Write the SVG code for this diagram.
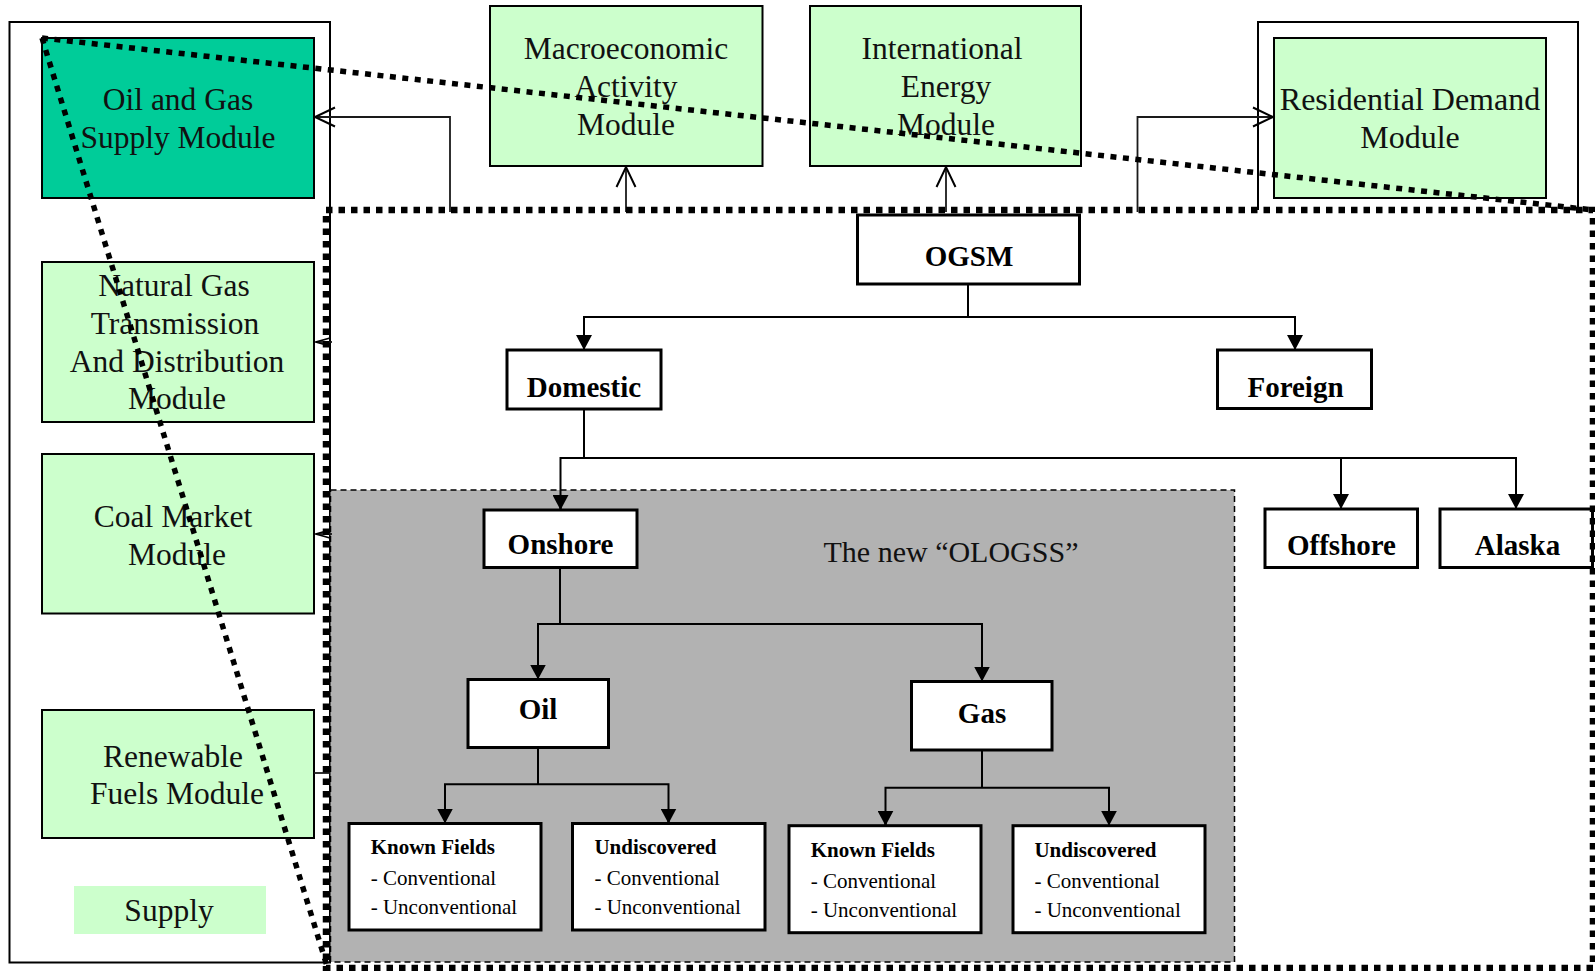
<svg xmlns="http://www.w3.org/2000/svg" width="1595" height="971" viewBox="0 0 1595 971">
  <style>
    .mod { fill: #CCFFCC; stroke: #000; stroke-width: 2; }
    .modtxt { font-family: "Liberation Serif", "Times New Roman", serif; font-size: 31.5px; fill: #111; text-anchor: middle; }
    .frame { fill: none; stroke: #000; stroke-width: 2; }
    .node { fill: #fff; stroke: #000; stroke-width: 3; }
    .ntxt { font-family: "Liberation Serif", "Times New Roman", serif; font-size: 29px; font-weight: bold; fill: #000; text-anchor: middle; }
    .leafh { font-family: "Liberation Serif", "Times New Roman", serif; font-size: 21px; font-weight: bold; fill: #000; }
    .leaft { font-family: "Liberation Serif", "Times New Roman", serif; font-size: 21px; fill: #000; }
    .wire { fill: none; stroke: #000; stroke-width: 2; }
    .feed { fill: none; stroke: #1a1a1a; stroke-width: 1.8; }
    .dots { fill: none; stroke: #000; stroke-width: 6.5; stroke-dasharray: 6.5 6; }
    .diag { fill: none; stroke: #000; stroke-width: 5.5; stroke-dasharray: 6 6.5; }
  </style>
  <defs>
    <marker id="tri" viewBox="0 0 15 16" refX="15" refY="8" markerWidth="15" markerHeight="16" markerUnits="userSpaceOnUse" orient="auto">
      <path d="M0,0 L15,8 L0,16 z" fill="#000"/>
    </marker>
    <marker id="open" viewBox="-1 -1 22 22" refX="20" refY="10" markerWidth="22" markerHeight="22" markerUnits="userSpaceOnUse" orient="auto" overflow="visible">
      <path d="M0,0.5 L20,10 L0,19.5" fill="none" stroke="#000" stroke-width="2"/>
    </marker>
    <marker id="openSmall" viewBox="-1 -1 16 12" refX="14" refY="5" markerWidth="16" markerHeight="12" markerUnits="userSpaceOnUse" orient="auto" overflow="visible">
      <path d="M0,1 L14,5 L0,9" fill="none" stroke="#000" stroke-width="1.8"/>
    </marker>
  </defs>

  <rect x="0" y="0" width="1595" height="971" fill="#fff"/>

  <!-- supply side frame and residential frame -->
  <g id="supply-frame">
    <rect class="frame" x="9.5" y="22" width="320.5" height="940.5"/>
  </g>
  <g id="residential-frame">
    <path class="frame" d="M1258,210 V22 H1578 V210"/>
  </g>

  <!-- shaded OLOGSS region -->
  <g id="ologss-region">
    <rect x="330.5" y="490" width="904" height="472" fill="#B2B2B2" stroke="#000" stroke-width="1.5" stroke-dasharray="6 4"/>
    <text class="modtxt" x="951" y="561.5" style="font-size:30px">The new “OLOGSS”</text>
  </g>

  <!-- NEMS modules -->
  <g id="oil-gas-supply">
    <rect x="42" y="38" width="272" height="160" fill="#00CC99" stroke="#000" stroke-width="2"/>
    <text class="modtxt" x="178" y="110">Oil and Gas</text>
    <text class="modtxt" x="178" y="147.7">Supply Module</text>
  </g>
  <g id="macroeconomic">
    <rect class="mod" x="490" y="6" width="272.5" height="160"/>
    <text class="modtxt" x="626" y="59.3">Macroeconomic</text>
    <text class="modtxt" x="626" y="97.3">Activity</text>
    <text class="modtxt" x="626" y="135">Module</text>
  </g>
  <g id="international">
    <rect class="mod" x="810" y="6" width="271" height="160"/>
    <text class="modtxt" x="942" y="59.3">International</text>
    <text class="modtxt" x="946" y="97.3">Energy</text>
    <text class="modtxt" x="946" y="135">Module</text>
  </g>
  <g id="residential">
    <rect class="mod" x="1274" y="38" width="272" height="160"/>
    <text class="modtxt" x="1410" y="110" style="font-size:32px">Residential Demand</text>
    <text class="modtxt" x="1410" y="147.7" style="font-size:32px">Module</text>
  </g>
  <g id="natural-gas">
    <rect class="mod" x="42" y="262" width="272" height="160"/>
    <text class="modtxt" x="174" y="296.3">Natural Gas</text>
    <text class="modtxt" x="175" y="334">Transmission</text>
    <text class="modtxt" x="177" y="371.7">And Distribution</text>
    <text class="modtxt" x="177" y="409.4">Module</text>
  </g>
  <g id="coal">
    <rect class="mod" x="42" y="454" width="272" height="159.5"/>
    <text class="modtxt" x="173" y="526.7">Coal Market</text>
    <text class="modtxt" x="177" y="565">Module</text>
  </g>
  <g id="renewable">
    <rect class="mod" x="42" y="710" width="272" height="128"/>
    <text class="modtxt" x="173" y="766.7">Renewable</text>
    <text class="modtxt" x="177" y="804">Fuels Module</text>
  </g>
  <g id="supply-label">
    <rect x="74" y="886" width="192" height="48" fill="#CCFFCC"/>
    <text class="modtxt" x="169" y="920.7">Supply</text>
  </g>

  <!-- OGSM tree -->
  <g id="ogsm">
    <rect class="node" x="857.5" y="215" width="222" height="69"/>
    <text class="ntxt" x="969" y="266">OGSM</text>
  </g>
  <g id="domestic">
    <rect class="node" x="507" y="350" width="154" height="59"/>
    <text class="ntxt" x="584" y="397">Domestic</text>
  </g>
  <g id="foreign">
    <rect class="node" x="1217.5" y="350" width="154" height="58.5"/>
    <text class="ntxt" x="1295.5" y="397.3">Foreign</text>
  </g>
  <g id="onshore">
    <rect class="node" x="484" y="510" width="153" height="57.5"/>
    <text class="ntxt" x="560.5" y="554">Onshore</text>
  </g>
  <g id="offshore">
    <rect class="node" x="1265" y="509" width="152.5" height="58.5"/>
    <text class="ntxt" x="1341.5" y="555">Offshore</text>
  </g>
  <g id="alaska">
    <rect class="node" x="1440" y="509" width="152.5" height="58.5"/>
    <text class="ntxt" x="1517.5" y="555">Alaska</text>
  </g>
  <g id="oil">
    <rect class="node" x="468" y="679.5" width="140.5" height="68"/>
    <text class="ntxt" x="538" y="719.3">Oil</text>
  </g>
  <g id="gas">
    <rect class="node" x="911.5" y="681.5" width="140.5" height="68.5"/>
    <text class="ntxt" x="982" y="722.6">Gas</text>
  </g>
  <g id="oil-known">
    <rect class="node" x="349" y="823.5" width="192" height="106.5"/>
    <text class="leafh" x="370.7" y="854">Known Fields</text>
    <text class="leaft" x="370.7" y="885">- Conventional</text>
    <text class="leaft" x="370.7" y="914">- Unconventional</text>
  </g>
  <g id="oil-undiscovered">
    <rect class="node" x="572.5" y="823.5" width="192.5" height="106.5"/>
    <text class="leafh" x="594.4" y="854">Undiscovered</text>
    <text class="leaft" x="594.4" y="885">- Conventional</text>
    <text class="leaft" x="594.4" y="914">- Unconventional</text>
  </g>
  <g id="gas-known">
    <rect class="node" x="789" y="825.7" width="192" height="107"/>
    <text class="leafh" x="810.7" y="856.5">Known Fields</text>
    <text class="leaft" x="810.7" y="887.5">- Conventional</text>
    <text class="leaft" x="810.7" y="916.5">- Unconventional</text>
  </g>
  <g id="gas-undiscovered">
    <rect class="node" x="1013" y="825.7" width="192" height="107"/>
    <text class="leafh" x="1034.4" y="856.5">Undiscovered</text>
    <text class="leaft" x="1034.4" y="887.5">- Conventional</text>
    <text class="leaft" x="1034.4" y="916.5">- Unconventional</text>
  </g>

  <g id="connectors">
    <!-- module feedback links -->
    <path class="feed" d="M450,212 V117 H315" marker-end="url(#open)"/>
    <path class="feed" d="M626,212 V167" marker-end="url(#open)"/>
    <path class="feed" d="M946,212 V167" marker-end="url(#open)"/>
    <path class="feed" d="M1137.5,212 V117 H1273" marker-end="url(#open)"/>
    <path class="feed" d="M332,342 H316" marker-end="url(#openSmall)"/>
    <path class="feed" d="M332,534 H316" marker-end="url(#openSmall)"/>
    <path class="feed" d="M314,773 H330"/>

    <!-- OGSM hierarchy -->
    <path class="wire" d="M968,284 V317"/>
    <path class="wire" d="M584,350 V317 H1295 V350"/>
    <path class="wire" d="M584,335 V350" marker-end="url(#tri)"/>
    <path class="wire" d="M1295,335 V350" marker-end="url(#tri)"/>

    <path class="wire" d="M584,409 V458"/>
    <path class="wire" d="M560.5,510 V458 H1516 V509"/>
    <path class="wire" d="M1341,458 V509"/>
    <path class="wire" d="M560.5,495 V510" marker-end="url(#tri)"/>
    <path class="wire" d="M1341,494 V509" marker-end="url(#tri)"/>
    <path class="wire" d="M1516,494 V509" marker-end="url(#tri)"/>

    <path class="wire" d="M560,567.5 V624"/>
    <path class="wire" d="M538,679.5 V624 H982 V681.5"/>
    <path class="wire" d="M538,665 V679.5" marker-end="url(#tri)"/>
    <path class="wire" d="M982,667 V681.5" marker-end="url(#tri)"/>

    <path class="wire" d="M538,747.5 V784.3"/>
    <path class="wire" d="M445,823.5 V784.3 H668.5 V823.5"/>
    <path class="wire" d="M445,809 V823.5" marker-end="url(#tri)"/>
    <path class="wire" d="M668.5,809 V823.5" marker-end="url(#tri)"/>

    <path class="wire" d="M982,750 V787.7"/>
    <path class="wire" d="M885.5,825.7 V787.7 H1109 V825.7"/>
    <path class="wire" d="M885.5,811 V825.7" marker-end="url(#tri)"/>
    <path class="wire" d="M1109,811 V825.7" marker-end="url(#tri)"/>
  </g>

  <!-- OGSM boundary with zoom-out guides -->
  <g id="ogsm-boundary">
    <rect class="dots" x="326" y="210" width="1267" height="758"/>
    <line class="diag" x1="42" y1="38" x2="1593" y2="210"/>
    <line class="diag" x1="42" y1="38" x2="327" y2="966"/>
  </g>
</svg>
